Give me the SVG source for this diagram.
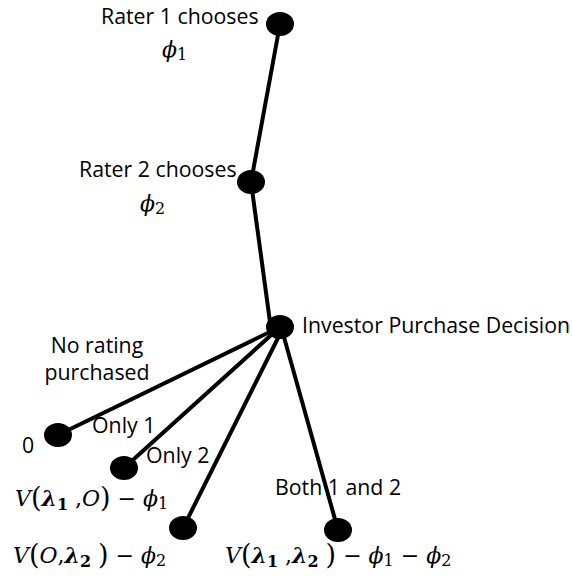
<svg xmlns="http://www.w3.org/2000/svg" width="572" height="579" viewBox="0 0 572 579">
<style>
.lbl{font-family:"Open Sans","Liberation Sans",sans-serif;font-size:21.3px;fill:#000}
.m{font-family:"DejaVu Serif","Liberation Serif",serif;font-size:22px;fill:#000;font-style:italic}
.b{font-weight:bold}
.n{font-style:normal}
.p{font-style:normal;font-size:27px}
.s{font-style:normal;font-size:16px}
.node{fill:#000}
.edge{stroke:#000;stroke-width:4;fill:none;stroke-linecap:round}
</style>
<rect width="572" height="579" fill="#fff"/>
<g id="connectors">
<line class="edge" x1="280" y1="24" x2="251" y2="182"/>
<line class="edge" x1="251" y1="182" x2="270" y2="322"/>
<line class="edge" x1="280" y1="327" x2="58" y2="435"/>
<line class="edge" x1="280" y1="327" x2="124" y2="468"/>
<line class="edge" x1="282" y1="330" x2="183" y2="528"/>
<line class="edge" x1="282" y1="330" x2="338" y2="530"/>
</g>
<g id="n-rater1">
<ellipse class="node" cx="280" cy="24" rx="14" ry="12"/>
<text class="lbl" x="101" y="24">Rater 1 chooses</text>
<text class="m" x="162" y="57" font-size="25">ϕ<tspan class="s" font-size="17" dy="3">1</tspan></text>
</g>
<g id="n-rater2">
<ellipse class="node" cx="251" cy="182" rx="14" ry="12"/>
<text class="lbl" x="79" y="177">Rater 2 chooses</text>
<text class="m" x="140" y="211" font-size="25">ϕ<tspan class="s" font-size="17" dy="3">2</tspan></text>
</g>
<g id="n-investor">
<ellipse class="node" cx="280" cy="327" rx="14" ry="12"/>
<text class="lbl" x="302" y="333">Investor Purchase Decision</text>
</g>
<g id="n-none">
<ellipse class="node" cx="58" cy="435" rx="14" ry="12"/>
<text class="lbl" x="97" y="353" text-anchor="middle">No rating</text>
<text class="lbl" x="97" y="380" text-anchor="middle">purchased</text>
<text class="lbl" x="22" y="453">0</text>
</g>
<g id="n-only1">
<ellipse class="node" cx="124" cy="468" rx="14" ry="12"/>
<text class="lbl" x="92" y="433">Only 1</text>
<text class="m" x="15" y="506">V<tspan class="p" dy="1">(</tspan><tspan class="b" dy="-1">λ</tspan><tspan class="s b" dy="4">1</tspan><tspan class="n" dy="-4"> ,</tspan>O<tspan class="p" dy="1">)</tspan><tspan class="n" dy="-1"> − </tspan>ϕ<tspan class="s" dy="3">1</tspan></text>
</g>
<g id="n-only2">
<ellipse class="node" cx="183" cy="528" rx="14" ry="12"/>
<text class="lbl" x="146" y="463">Only 2</text>
<text class="m" x="13" y="563">V<tspan class="p" dy="1">(</tspan><tspan dy="-1">O</tspan><tspan class="n">,</tspan><tspan class="b">λ</tspan><tspan class="s b" dy="4">2</tspan><tspan class="n" dy="-4"> </tspan><tspan class="p" dy="1">)</tspan><tspan class="n" dy="-1"> − </tspan>ϕ<tspan class="s" dy="3">2</tspan></text>
</g>
<g id="n-both">
<ellipse class="node" cx="338" cy="530" rx="14" ry="12"/>
<text class="lbl" x="275" y="495">Both 1 and 2</text>
<text class="m" x="225" y="563">V<tspan class="p" dy="1">(</tspan><tspan class="b" dy="-1">λ</tspan><tspan class="s b" dy="4">1</tspan><tspan class="n" dy="-4"> ,</tspan><tspan class="b">λ</tspan><tspan class="s b" dy="4">2</tspan><tspan class="n" dy="-4"> </tspan><tspan class="p" dy="1">)</tspan><tspan class="n" dy="-1"> − </tspan>ϕ<tspan class="s" dy="3">1</tspan><tspan class="n" dy="-3"> − </tspan>ϕ<tspan class="s" dy="3">2</tspan></text>
</g>
</svg>
